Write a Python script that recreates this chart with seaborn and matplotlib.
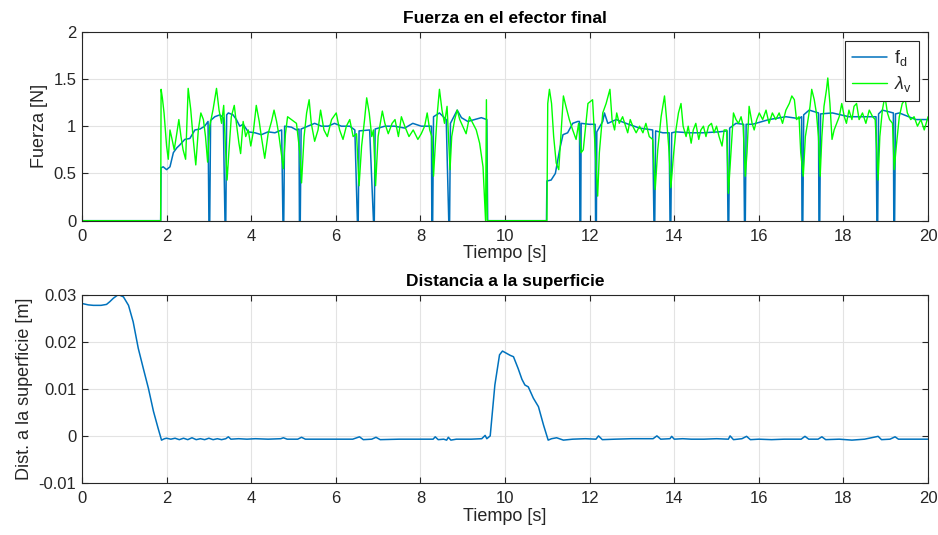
import matplotlib
matplotlib.use("Agg")
import matplotlib.pyplot as plt
import seaborn as sns

# Fuerza en el efector final: f_d (blue) and lambda_v (green)
t_fd = [0.00, 1.86, 1.87, 1.92, 2.00, 2.08, 2.16, 2.24, 2.31, 2.43, 2.55, 2.67, 2.79, 2.90, 2.98,
        3.00, 3.02, 3.04, 3.14, 3.26, 3.34, 3.38, 3.40, 3.42, 3.46, 3.57, 3.65, 3.73, 3.81, 3.93,
        4.09, 4.24, 4.40, 4.56, 4.72, 4.75, 4.77, 4.79, 4.95, 5.07, 5.13, 5.14, 5.16, 5.18, 5.34,
        5.50, 5.66, 5.82, 5.97, 6.13, 6.33, 6.45, 6.51, 6.53, 6.55, 6.80, 6.89, 6.91, 6.93, 7.16,
        7.39, 7.63, 7.82, 8.02, 8.18, 8.26, 8.27, 8.29, 8.31, 8.45, 8.61, 8.67, 8.69, 8.71, 8.87,
        8.97, 9.12, 9.28, 9.44, 9.57, 9.59, 10.98, 10.99, 11.09, 11.19, 11.29, 11.37, 11.48, 11.60,
        11.72, 11.76, 11.77, 11.79, 11.80, 11.99, 12.13, 12.14, 12.16, 12.17, 12.31, 12.35, 12.43,
        12.63, 12.86, 13.18, 13.49, 13.52, 13.54, 13.56, 13.73, 13.88, 13.90, 13.92, 13.94, 14.04,
        14.36, 14.67, 15.06, 15.25, 15.27, 15.29, 15.31, 15.46, 15.64, 15.66, 15.68, 15.70, 15.85,
        16.24, 16.64, 16.95, 17.01, 17.02, 17.04, 17.06, 17.19, 17.41, 17.42, 17.44, 17.46, 17.74,
        18.13, 18.53, 18.77, 18.79, 18.81, 18.83, 18.92, 19.18, 19.19, 19.21, 19.23, 19.32, 19.71,
        20.00]
fd = [0, 0, 0.56, 0.57, 0.54, 0.57, 0.72, 0.77, 0.80, 0.86, 0.87, 0.96, 0.97, 1.00, 1.05,
      0, 0, 1.06, 1.10, 1.12, 1.09, 0, 0, 1.12, 1.14, 1.12, 1.07, 1.00, 1.02, 0.94,
      0.93, 0.91, 0.94, 0.93, 0.96, 0, 0, 1.00, 0.99, 0.96, 0.97, 0, 0, 0.97, 1.00,
      1.03, 1.00, 1.00, 1.03, 1.00, 1.00, 0.96, 0, 0, 0.95, 0.96, 0, 0, 0.97, 1.00,
      1.00, 0.98, 1.03, 1.00, 1.00, 1.00, 0, 0, 1.10, 1.14, 1.07, 0, 0, 1.03, 1.17,
      1.09, 1.05, 1.07, 1.09, 1.07, 0, 0, 0.42, 0.43, 0.50, 0.75, 0.91, 0.93, 1.03,
      1.05, 1.05, 0, 0, 1.03, 1.02, 1.02, 0, 0, 0.94, 1.05, 1.14, 1.03,
      1.07, 1.03, 0.98, 0.96, 0, 0, 0.95, 0.93, 0.93, 0, 0, 0.93, 0.94,
      0.93, 0.93, 0.94, 0.95, 0, 0, 0.98, 1.03, 1.02, 0, 0, 1.02, 1.02,
      1.07, 1.10, 1.08, 1.10, 0, 0, 1.12, 1.17, 1.14, 0, 0, 1.13, 1.14,
      1.10, 1.10, 1.10, 0, 0, 1.13, 1.17, 1.14, 0, 0, 1.13, 1.14, 1.07,
      1.07]

t_lv = [0.00, 1.86, 1.87, 1.90, 1.94, 2.00, 2.04, 2.08, 2.13, 2.18, 2.24, 2.29, 2.34, 2.39, 2.45,
        2.51, 2.57, 2.63, 2.69, 2.75, 2.81, 2.87, 2.92, 2.97, 3.02, 3.10, 3.18, 3.24, 3.30, 3.35,
        3.39, 3.43, 3.47, 3.53, 3.60, 3.65, 3.71, 3.75, 3.81, 3.87, 3.93, 3.99, 4.05, 4.12, 4.19,
        4.24, 4.32, 4.40, 4.48, 4.54, 4.60, 4.65, 4.70, 4.76, 4.81, 4.86, 4.95, 5.07, 5.15, 5.19,
        5.25, 5.31, 5.37, 5.42, 5.50, 5.58, 5.64, 5.72, 5.80, 5.90, 6.01, 6.09, 6.17, 6.25, 6.33,
        6.41, 6.49, 6.55, 6.61, 6.68, 6.73, 6.79, 6.85, 6.89, 6.94, 7.00, 7.10, 7.16, 7.24, 7.33,
        7.40, 7.48, 7.55, 7.63, 7.73, 7.83, 7.94, 8.02, 8.10, 8.16, 8.22, 8.27, 8.31, 8.35, 8.40,
        8.45, 8.51, 8.57, 8.63, 8.70, 8.74, 8.81, 8.87, 8.93, 9.00, 9.08, 9.16, 9.24, 9.32, 9.40,
        9.48, 9.52, 9.54, 9.56, 9.58, 10.99, 11.01, 11.05, 11.10, 11.15, 11.21, 11.27, 11.33, 11.38,
        11.44, 11.52, 11.60, 11.68, 11.74, 11.80, 11.85, 11.96, 12.07, 12.14, 12.19, 12.23, 12.31,
        12.39, 12.48, 12.53, 12.59, 12.64, 12.70, 12.78, 12.85, 12.90, 12.96, 13.02, 13.10, 13.18,
        13.26, 13.33, 13.41, 13.49, 13.55, 13.61, 13.69, 13.77, 13.82, 13.88, 13.92, 13.98, 14.04,
        14.10, 14.16, 14.21, 14.28, 14.33, 14.40, 14.45, 14.51, 14.58, 14.63, 14.69, 14.75, 14.81,
        14.88, 14.94, 15.00, 15.06, 15.13, 15.18, 15.24, 15.28, 15.34, 15.40, 15.46, 15.52, 15.58,
        15.63, 15.68, 15.72, 15.77, 15.84, 15.89, 15.95, 16.01, 16.09, 16.17, 16.24, 16.32, 16.40,
        16.48, 16.56, 16.64, 16.72, 16.78, 16.84, 16.89, 16.95, 16.99, 17.05, 17.10, 17.15, 17.21,
        17.25, 17.31, 17.36, 17.41, 17.45, 17.49, 17.54, 17.60, 17.63, 17.68, 17.73, 17.78, 17.84,
        17.90, 17.96, 18.02, 18.07, 18.13, 18.20, 18.25, 18.31, 18.37, 18.45, 18.53, 18.61, 18.69,
        18.75, 18.79, 18.82, 18.86, 18.92, 18.98, 19.04, 19.09, 19.16, 19.20, 19.25, 19.32, 19.39,
        19.46, 19.51, 19.59, 19.67, 19.75, 19.83, 19.91, 20.00]
lv = [0, 0, 1.39, 1.30, 1.14, 0.79, 0.65, 0.96, 0.86, 0.75, 0.92, 1.07, 0.89, 0.75, 0.65,
      1.40, 1.18, 0.86, 0.59, 0.96, 1.14, 1.07, 0.89, 0.62, 1.00, 1.18, 1.40, 1.17, 1.03, 1.22,
      0.79, 0.43, 0.71, 1.10, 1.22, 1.03, 0.82, 0.71, 1.05, 0.89, 0.96, 0.79, 0.94, 1.22, 1.05,
      0.89, 0.66, 0.92, 1.05, 1.17, 1.05, 0.92, 0.75, 0.55, 0.92, 1.10, 1.07, 1.03, 0.72, 0.40,
      0.89, 1.14, 1.28, 1.03, 0.84, 0.96, 1.17, 0.96, 0.89, 1.07, 1.14, 0.96, 0.86, 1.00, 1.07,
      0.89, 0.92, 0.37, 0.79, 1.07, 1.30, 1.14, 0.89, 0.96, 0.37, 0.89, 1.16, 1.03, 0.92, 1.03,
      1.07, 0.89, 1.10, 1.00, 0.89, 0.96, 0.86, 0.92, 1.00, 1.14, 0.96, 0.89, 0.47, 0.79, 1.14,
      1.39, 1.17, 1.03, 1.21, 0.54, 0.89, 1.07, 1.17, 1.07, 1.00, 0.92, 1.10, 1.03, 0.96, 0.82,
      0.57, 0.19, 0.00, 1.28, 0.00, 0.00, 1.24, 1.39, 1.24, 0.89, 0.61, 0.54, 0.96, 1.32,
      1.21, 1.07, 0.96, 0.86, 1.03, 0.72, 0.75, 1.24, 1.28, 0.68, 0.26, 0.72, 1.14,
      1.24, 1.39, 1.07, 0.96, 1.14, 1.03, 1.10, 1.00, 0.93, 1.07, 1.00, 0.93, 1.00,
      0.93, 1.03, 0.89, 0.86, 0.33, 0.75, 1.10, 1.32, 1.07, 0.72, 0.35, 0.68, 0.96,
      1.14, 1.24, 1.00, 0.89, 1.00, 0.82, 0.96, 1.03, 0.86, 0.96, 1.00, 0.89, 1.00,
      1.03, 0.93, 1.00, 0.89, 0.79, 0.96, 0.96, 0.29, 0.72, 1.14, 1.07, 1.03, 1.10,
      1.00, 0.47, 0.72, 1.21, 1.03, 0.96, 1.07, 1.14, 1.07, 1.17, 1.03, 1.14, 1.07,
      1.14, 1.03, 1.17, 1.24, 1.32, 1.28, 1.07, 1.10, 0.72, 0.47, 0.89, 1.03, 1.21,
      1.39, 1.28, 1.14, 0.89, 0.47, 0.89, 1.21, 1.39, 1.51, 1.24, 0.86, 0.96, 1.03,
      1.10, 1.24, 1.10, 1.03, 1.17, 1.07, 1.21, 1.24, 1.07, 1.14, 1.03, 1.17, 1.10,
      1.07, 0.72, 0.43, 0.89, 1.17, 1.32, 1.14, 1.07, 1.03, 0.54, 0.79, 1.10, 1.24,
      1.28, 1.14, 1.07, 1.10, 1.00, 1.07, 0.96, 1.10]

# Distancia a la superficie
t_dist = [0.00, 0.15, 0.27, 0.45, 0.58, 0.66, 0.74, 0.86, 0.98, 1.10, 1.21, 1.33, 1.45, 1.57, 1.69,
          1.80, 1.88, 1.95, 2.00, 2.10, 2.20, 2.30, 2.40, 2.50, 2.60, 2.70, 2.80, 2.90, 3.00, 3.10,
          3.20, 3.30, 3.40, 3.46, 3.52, 3.70, 3.90, 4.10, 4.40, 4.70, 4.76, 4.85, 5.10, 5.19, 5.28,
          5.60, 6.00, 6.40, 6.56, 6.65, 6.85, 6.95, 7.05, 7.50, 8.00, 8.30, 8.35, 8.42, 8.55, 8.62,
          8.66, 8.72, 8.85, 9.20, 9.45, 9.53, 9.57, 9.65, 9.76, 9.87, 9.94, 10.04, 10.12, 10.20,
          10.31, 10.40, 10.47, 10.55, 10.67, 10.79, 10.91, 11.02, 11.10, 11.22, 11.38, 11.60, 11.90,
          12.15, 12.21, 12.30, 12.60, 13.00, 13.50, 13.59, 13.68, 13.90, 13.94, 14.00, 14.20, 14.40,
          14.70, 15.00, 15.28, 15.32, 15.40, 15.60, 15.71, 15.80, 16.00, 16.30, 16.60, 17.00, 17.09,
          17.18, 17.40, 17.49, 17.58, 17.90, 18.20, 18.50, 18.82, 18.90, 19.10, 19.22, 19.30, 19.60,
          20.00]
dist = [0.0281, 0.0278, 0.0277, 0.0277, 0.0279, 0.0285, 0.0292, 0.0300, 0.0295, 0.0277, 0.0242,
        0.0186, 0.0143, 0.0101, 0.0052, 0.0016, -0.0009, -0.0006, -0.0005, -0.0007, -0.0005,
        -0.0008, -0.0005, -0.0008, -0.0004, -0.0008, -0.0006, -0.0008, -0.0005, -0.0008, -0.0006,
        -0.0008, -0.0006, -0.0002, -0.0007, -0.0006, -0.0007, -0.0006, -0.0007, -0.0006, -0.0004,
        -0.0007, -0.0007, -0.0003, -0.0007, -0.0007, -0.0007, -0.0007, -0.0002, -0.0008, -0.0007,
        -0.0003, -0.0008, -0.0007, -0.0007, -0.0007, -0.0002, -0.0008, -0.0007, -0.0009, -0.0003,
        -0.0009, -0.0007, -0.0007, -0.0006, 0.0001, -0.0006, 0.0000, 0.0108, 0.0172, 0.0180,
        0.0175, 0.0171, 0.0168, 0.0143, 0.0120, 0.0108, 0.0104, 0.0080, 0.0062, 0.0023, -0.0009,
        -0.0006, -0.0004, -0.0009, -0.0007, -0.0006, -0.0007, 0.0000, -0.0008, -0.0007, -0.0006,
        -0.0006, 0.0000, -0.0007, -0.0006, -0.0001, -0.0007, -0.0006, -0.0007, -0.0007, -0.0006,
        -0.0007, 0.0000, -0.0008, -0.0006, -0.0001, -0.0008, -0.0007, -0.0008, -0.0007, -0.0007,
        -0.0001, -0.0007, -0.0007, -0.0002, -0.0008, -0.0007, -0.0009, -0.0007, -0.0001, -0.0008,
        -0.0007, -0.0002, -0.0007, -0.0007, -0.0007]

x_ticks = [0, 2, 4, 6, 8, 10, 12, 14, 16, 18, 20]
f_ticks = [0, 0.5, 1, 1.5, 2]
f_ticklabels = ["0", "0.5", "1", "1.5", "2"]
d_ticks = [-0.01, 0, 0.01, 0.02, 0.03]
d_ticklabels = ["-0.01", "0", "0.01", "0.02", "0.03"]

BLUE = "#0072BD"
GREEN = "#00FF00"
DARK = "#262626"

sns.set_theme(style="whitegrid")
plt.rcParams["font.family"] = ["Liberation Sans", "DejaVu Sans"]
plt.rcParams["mathtext.fontset"] = "custom"
plt.rcParams["mathtext.rm"] = "Liberation Sans"
plt.rcParams["mathtext.it"] = "Liberation Sans:italic"


def style_axes(ax):
    ax.set_facecolor("white")
    ax.grid(True, color="#E3E3E3", lw=0.8)
    ax.set_axisbelow(True)
    for s in ax.spines.values():
        s.set_visible(True)
        s.set_color(DARK)
        s.set_linewidth(0.8)
    ax.tick_params(direction="in", length=4, width=0.8, colors=DARK, labelsize=12,
                   top=True, right=True, bottom=True, left=True, pad=4)
    ax.tick_params(axis="x", pad=6)


fig = plt.figure(figsize=(9.38, 5.35), dpi=100)

ax1 = fig.add_axes([0.0874, 0.5875, 0.902, 0.3533])
sns.lineplot(x=t_fd, y=fd, ax=ax1, color=BLUE, lw=1.1, estimator=None, sort=False,
             label=r"$\mathregular{f_d}$")
sns.lineplot(x=t_lv, y=lv, ax=ax1, color=GREEN, lw=1.0, estimator=None, sort=False,
             label=r"$\lambda_\mathregular{v}$")
style_axes(ax1)
ax1.set_xlim(0, 20)
ax1.set_ylim(0, 2)
ax1.set_xticks(x_ticks)
ax1.set_yticks(f_ticks)
ax1.set_yticklabels(f_ticklabels)
ax1.set_xlabel("Tiempo [s]", fontsize=13, color=DARK, labelpad=1)
ax1.set_ylabel("Fuerza [N]", fontsize=13, color=DARK, labelpad=4)
ax1.set_title("Fuerza en el efector final", fontsize=12.5, fontweight="bold", color="black", pad=6)
leg = ax1.legend(loc="upper right", fontsize=13, frameon=True, fancybox=False,
                 edgecolor=DARK, framealpha=1, handlelength=1.9, borderpad=0.4,
                 labelspacing=0.35, handletextpad=0.4, borderaxespad=0.5)
leg.get_frame().set_linewidth(0.8)

ax2 = fig.add_axes([0.0874, 0.0972, 0.902, 0.3523])
sns.lineplot(x=t_dist, y=dist, ax=ax2, color=BLUE, lw=1.1, estimator=None, sort=False)
style_axes(ax2)
ax2.set_xlim(0, 20)
ax2.set_ylim(-0.01, 0.03)
ax2.set_xticks(x_ticks)
ax2.set_yticks(d_ticks)
ax2.set_yticklabels(d_ticklabels)
ax2.set_xlabel("Tiempo [s]", fontsize=13, color=DARK, labelpad=1)
ax2.set_ylabel("Dist. a la superficie [m]", fontsize=13, color=DARK, labelpad=4)
ax2.set_title("Distancia a la superficie", fontsize=12.5, fontweight="bold", color="black", pad=6)

fig.savefig("out.png", dpi=100)
